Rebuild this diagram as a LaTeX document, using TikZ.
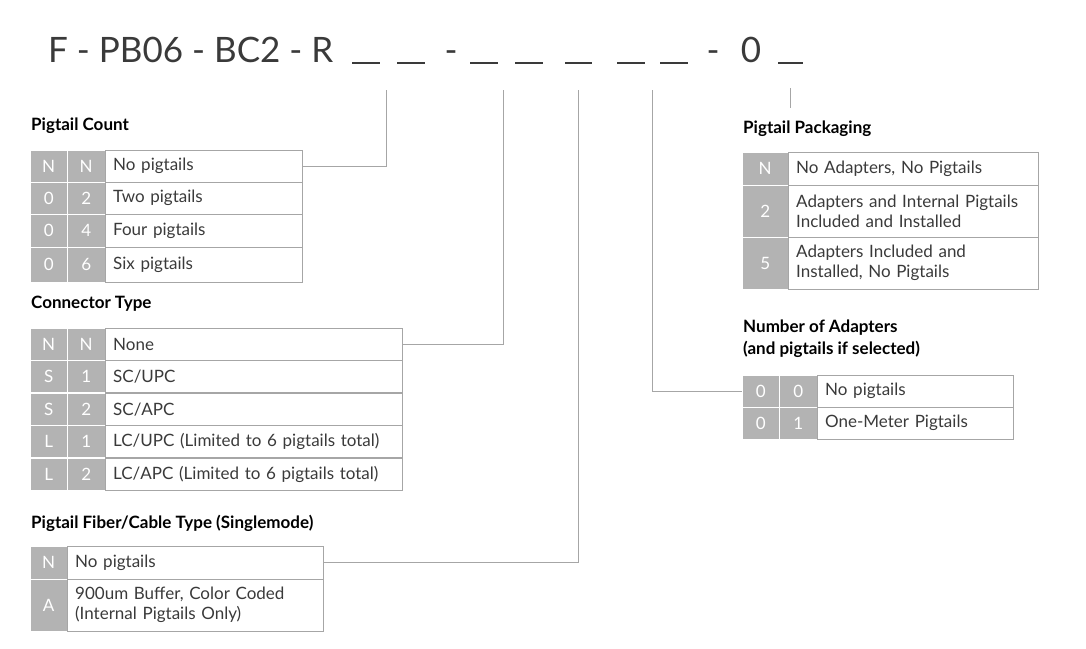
\documentclass[tikz,border=0pt]{standalone}
\usepackage{fontspec}
\setmainfont{Lato}
\usetikzlibrary{positioning}
\definecolor{codegray}{HTML}{B3B3B3}
\definecolor{linegray}{HTML}{A6A6A6}
\definecolor{inkgray}{HTML}{3A3A3A}

\begin{document}
\begin{tikzpicture}[
    x=1pt, y=-1pt,
    font=\fontsize{17}{20}\selectfont,
    codecell/.style={
        rectangle,
        draw=white,
        fill=codegray,
        text=white,
        anchor=north west,
        inner sep=0pt
    },
    textcell/.style={
        rectangle,
        draw=linegray,
        text=inkgray,
        anchor=north west,
        align=left,
        inner xsep=8pt,
        inner ysep=0pt
    },
    headstyle/.style={font=\fontsize{17}{22}\selectfont\bfseries, text=black, anchor=west, align=left, inner sep=0pt},
    titlestyle/.style={font=\fontsize{35}{40}\selectfont, text=inkgray, inner sep=0pt},
    blank/.style={draw=inkgray, line width=1.4pt},
    link/.style={draw=linegray, line width=0.8pt}
]
\useasboundingbox (0,0) rectangle (1086,648);

% --- Part number ---
\node[titlestyle, anchor=base west] (pn) at (48,62) {F - PB06 - BC2 - R};
\node[titlestyle, anchor=base] (dash1) at (451,62) {-};
\node[titlestyle, anchor=base] (dash2) at (713,62) {-};
\node[titlestyle, anchor=base] (zero) at (751,62) {0};
\foreach \xa/\xb [count=\i] in {352/380, 397/425, 470/498, 515/543, 565/592, 617/645, 660/688, 778/803}
    \draw[blank] (\xa,63) -- (\xb,63);
\coordinate (bcount) at (386,90);
\coordinate (bconn) at (503,90);
\coordinate (bfiber) at (578,90);
\coordinate (badapt) at (652,90);
\coordinate (bpack) at (790,88);

% --- Pigtail Count ---
\node[headstyle] (hcount) at (31,126) {Pigtail Count};
\foreach \a/\b/\t/\y/\h [count=\i] in {N/N/No pigtails/150/32, 0/2/Two pigtails/182/32, 0/4/Four pigtails/214/33, 0/6/Six pigtails/247/35} {
    \node[codecell, minimum width=37pt, minimum height=\h pt] (pc\i a) at (30,\y) {\a};
    \node[codecell, minimum width=38pt, minimum height=\h pt] (pc\i b) at (67,\y) {\b};
    \node[textcell, text width=181pt, minimum height=\h pt] (pc\i t) at (105,\y) {\t};
}

% --- Connector Type ---
\node[headstyle] (hconn) at (31,304) {Connector Type};
\foreach \a/\b/\t/\y [count=\i] in {N/N/None/328, S/1/SC\slash UPC/360, S/2/SC\slash APC/393, L/1/LC\slash UPC (Limited to 6 pigtails total)/425, L/2/LC\slash APC (Limited to 6 pigtails total)/458} {
    \node[codecell, minimum width=37pt, minimum height=32pt] (ct\i a) at (30,\y) {\a};
    \node[codecell, minimum width=38pt, minimum height=32pt] (ct\i b) at (67,\y) {\b};
    \node[textcell, text width=281pt, minimum height=32pt] (ct\i t) at (105,\y) {\t};
}

% --- Pigtail Fiber/Cable Type ---
\node[headstyle] (hfiber) at (31,523) {Pigtail Fiber/Cable Type (Singlemode)};
\node[codecell, minimum width=37pt, minimum height=33pt] (ft1a) at (30,546) {N};
\node[textcell, text width=240pt, minimum height=33pt] (ft1t) at (67,546) {No pigtails};
\node[codecell, minimum width=37pt, minimum height=52pt] (ft2a) at (30,579) {A};
\node[textcell, text width=240pt, minimum height=52pt] (ft2t) at (67,579) {900um Buffer, Color Coded\\(Internal Pigtails Only)};

% --- Pigtail Packaging ---
\node[headstyle] (hpack) at (743,129) {Pigtail Packaging};
\foreach \a/\t/\y/\h [count=\i] in {N/No Adapters{,} No Pigtails/152/33, 2/Adapters and Internal Pigtails\\Included and Installed/185/52, 5/Adapters Included and\\Installed{,} No Pigtails/237/52} {
    \node[codecell, minimum width=46pt, minimum height=\h pt] (pp\i a) at (742,\y) {\a};
    \node[textcell, text width=234pt, minimum height=\h pt] (pp\i t) at (788,\y) {\t};
}

% --- Number of Adapters ---
\node[headstyle] (hadapt) at (743,339) {Number of Adapters\\(and pigtails if selected)};
\foreach \a/\b/\t/\y [count=\i] in {0/0/No pigtails/375, 0/1/One-Meter Pigtails/407} {
    \node[codecell, minimum width=37pt, minimum height=32pt] (na\i a) at (742,\y) {\a};
    \node[codecell, minimum width=38pt, minimum height=32pt] (na\i b) at (779,\y) {\b};
    \node[textcell, text width=180pt, minimum height=32pt] (na\i t) at (817,\y) {\t};
}

% --- Leader lines ---
\draw[link] (bcount) |- (pc1t.east);
\draw[link] (bconn) |- (ct1t.east);
\draw[link] (bfiber) |- (ft1t.east);
\draw[link] (badapt) |- (na1a.west);
\draw[link] (bpack) -- ++(0,20);

\end{tikzpicture}
\end{document}
